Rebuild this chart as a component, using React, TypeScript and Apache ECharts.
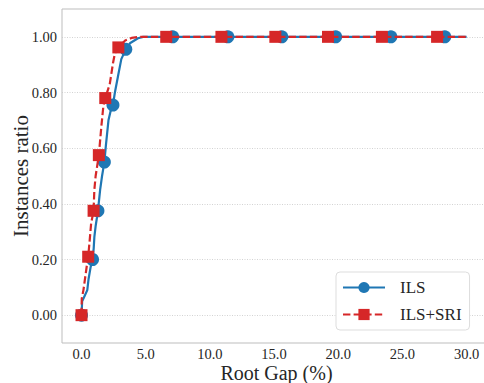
import React, { useEffect, useRef } from "react";
import * as echarts from "echarts";

// ILS curve (x = root gap %, y = instances ratio)
const ilsX = [0, 0.05, 0.25, 0.45, 0.55, 0.7, 0.86, 0.95, 1.0, 1.1, 1.2, 1.28, 1.45, 1.6, 1.78, 1.9, 2.1, 2.3, 2.45, 2.6, 2.85, 3.1, 3.45, 3.8, 4.4, 4.8, 7.1, 11.4, 15.6, 19.8, 24.1, 28.3, 30.0];
const ilsY = [0, 0.05, 0.07, 0.09, 0.13, 0.17, 0.2, 0.24, 0.28, 0.32, 0.35, 0.375, 0.45, 0.5, 0.55, 0.61, 0.7, 0.74, 0.755, 0.8, 0.86, 0.92, 0.955, 0.978, 0.995, 1.0, 1, 1, 1, 1, 1, 1, 1];
const ilsMarkerIdx = [0, 6, 11, 14, 18, 22, 26, 27, 28, 29, 30, 31];

// ILS+SRI curve
const sriX = [0, 0.02, 0.15, 0.3, 0.45, 0.52, 0.62, 0.75, 0.94, 1.0, 1.1, 1.35, 1.55, 1.7, 1.85, 2.2, 2.45, 2.6, 2.87, 3.4, 3.9, 4.5, 6.6, 10.9, 15.1, 19.2, 23.4, 27.7, 30.0];
const sriY = [0, 0.06, 0.09, 0.14, 0.19, 0.21, 0.26, 0.33, 0.375, 0.45, 0.5, 0.575, 0.68, 0.75, 0.78, 0.83, 0.905, 0.94, 0.962, 0.987, 0.996, 1.0, 1, 1, 1, 1, 1, 1, 1];
const sriMarkerIdx = [0, 5, 8, 11, 14, 18, 22, 23, 24, 25, 26, 27];

const xTicks = [0, 5, 10, 15, 20, 25, 30];
const yTicks = [0, 0.2, 0.4, 0.6, 0.8, 1.0];
const seriesNames = ["ILS", "ILS+SRI"];

const FONT = "'Liberation Serif', 'DejaVu Serif', serif";
const TEXT = "#262626";

function buildData(xs: number[], ys: number[], marks: number[], sym: string) {
  return xs.map((x, i) => ({
    value: [x, ys[i]],
    symbol: marks.includes(i) ? sym : "none",
  }));
}

export default function App() {
  const ref = useRef<HTMLDivElement>(null);
  useEffect(() => {
    if (!ref.current) return;
    const chart = echarts.init(ref.current, null, { renderer: "svg" });
    chart.setOption({
      animation: false,
      backgroundColor: "#ffffff",
      grid: {
        left: 62,
        right: -7,
        top: 9,
        bottom: 40,
        containLabel: false,
        outerBoundsMode: "none",
        show: true,
        borderColor: "#bdbdbd",
        borderWidth: 1,
        backgroundColor: "transparent",
      },
      xAxis: {
        type: "value",
        min: -1.52,
        max: 31.9,
        name: "Root Gap (%)",
        nameLocation: "middle",
        nameMoveOverlap: false,
        nameGap: 20,
        nameTextStyle: { fontFamily: FONT, fontSize: 20, lineHeight: 20, color: TEXT },
        axisLine: { show: false },
        axisTick: { show: false, customValues: xTicks },
        axisLabel: {
          customValues: xTicks,
          formatter: (v: number) => v.toFixed(1),
          fontFamily: FONT,
          fontSize: 14.5,
          lineHeight: 14,
          color: TEXT,
          margin: 4,
        },
        splitLine: { show: false },
      },
      yAxis: {
        type: "value",
        min: -0.1,
        max: 1.1,
        name: "Instances ratio",
        nameLocation: "middle",
        nameMoveOverlap: false,
        nameGap: 31,
        nameRotate: 90,
        nameTextStyle: { fontFamily: FONT, fontSize: 21, color: TEXT },
        axisLine: { show: false },
        axisTick: { show: false, customValues: yTicks },
        axisLabel: {
          customValues: yTicks,
          formatter: (v: number) => v.toFixed(2),
          fontFamily: FONT,
          fontSize: 14.5,
          color: TEXT,
          margin: 5,
        },
        splitLine: {
          show: true,
          lineStyle: { color: "#c8c8c8", type: [1, 1.5], width: 0.8 },
        },
      },
      legend: {
        orient: "vertical",
        left: 336,
        top: 272,
        padding: [7, 8, 7, 6],
        itemGap: 10,
        itemWidth: 42,
        itemHeight: 14,
        backgroundColor: "#ffffff",
        borderColor: "#dddddd",
        borderWidth: 1,
        borderRadius: 4,
        textStyle: { fontFamily: FONT, fontSize: 17, color: TEXT, padding: [0, 0, 0, 10] },
        data: seriesNames,
      },
      series: [
        {
          name: seriesNames[0],
          type: "line",
          data: buildData(ilsX, ilsY, ilsMarkerIdx, "circle"),
          symbol: "circle",
          symbolSize: 13,
          showSymbol: true,
          showAllSymbol: true,
          color: "#1f77b4",
          itemStyle: { color: "#1f77b4" },
          lineStyle: { color: "#1f77b4", width: 2.2, type: "solid" },
          z: 2,
        },
        {
          name: seriesNames[1],
          type: "line",
          data: buildData(sriX, sriY, sriMarkerIdx, "rect"),
          symbol: "rect",
          symbolSize: 12,
          showSymbol: true,
          showAllSymbol: true,
          color: "#d62728",
          itemStyle: { color: "#d62728" },
          lineStyle: { color: "#d62728", width: 2.2, type: [7.4, 3.2] },
          z: 3,
        },
      ],
    });
    return () => chart.dispose();
  }, []);
  return (
    <div
      ref={ref}
      style={{ position: "fixed", left: 0, top: 0, width: 484, height: 383 }}
    />
  );
}
